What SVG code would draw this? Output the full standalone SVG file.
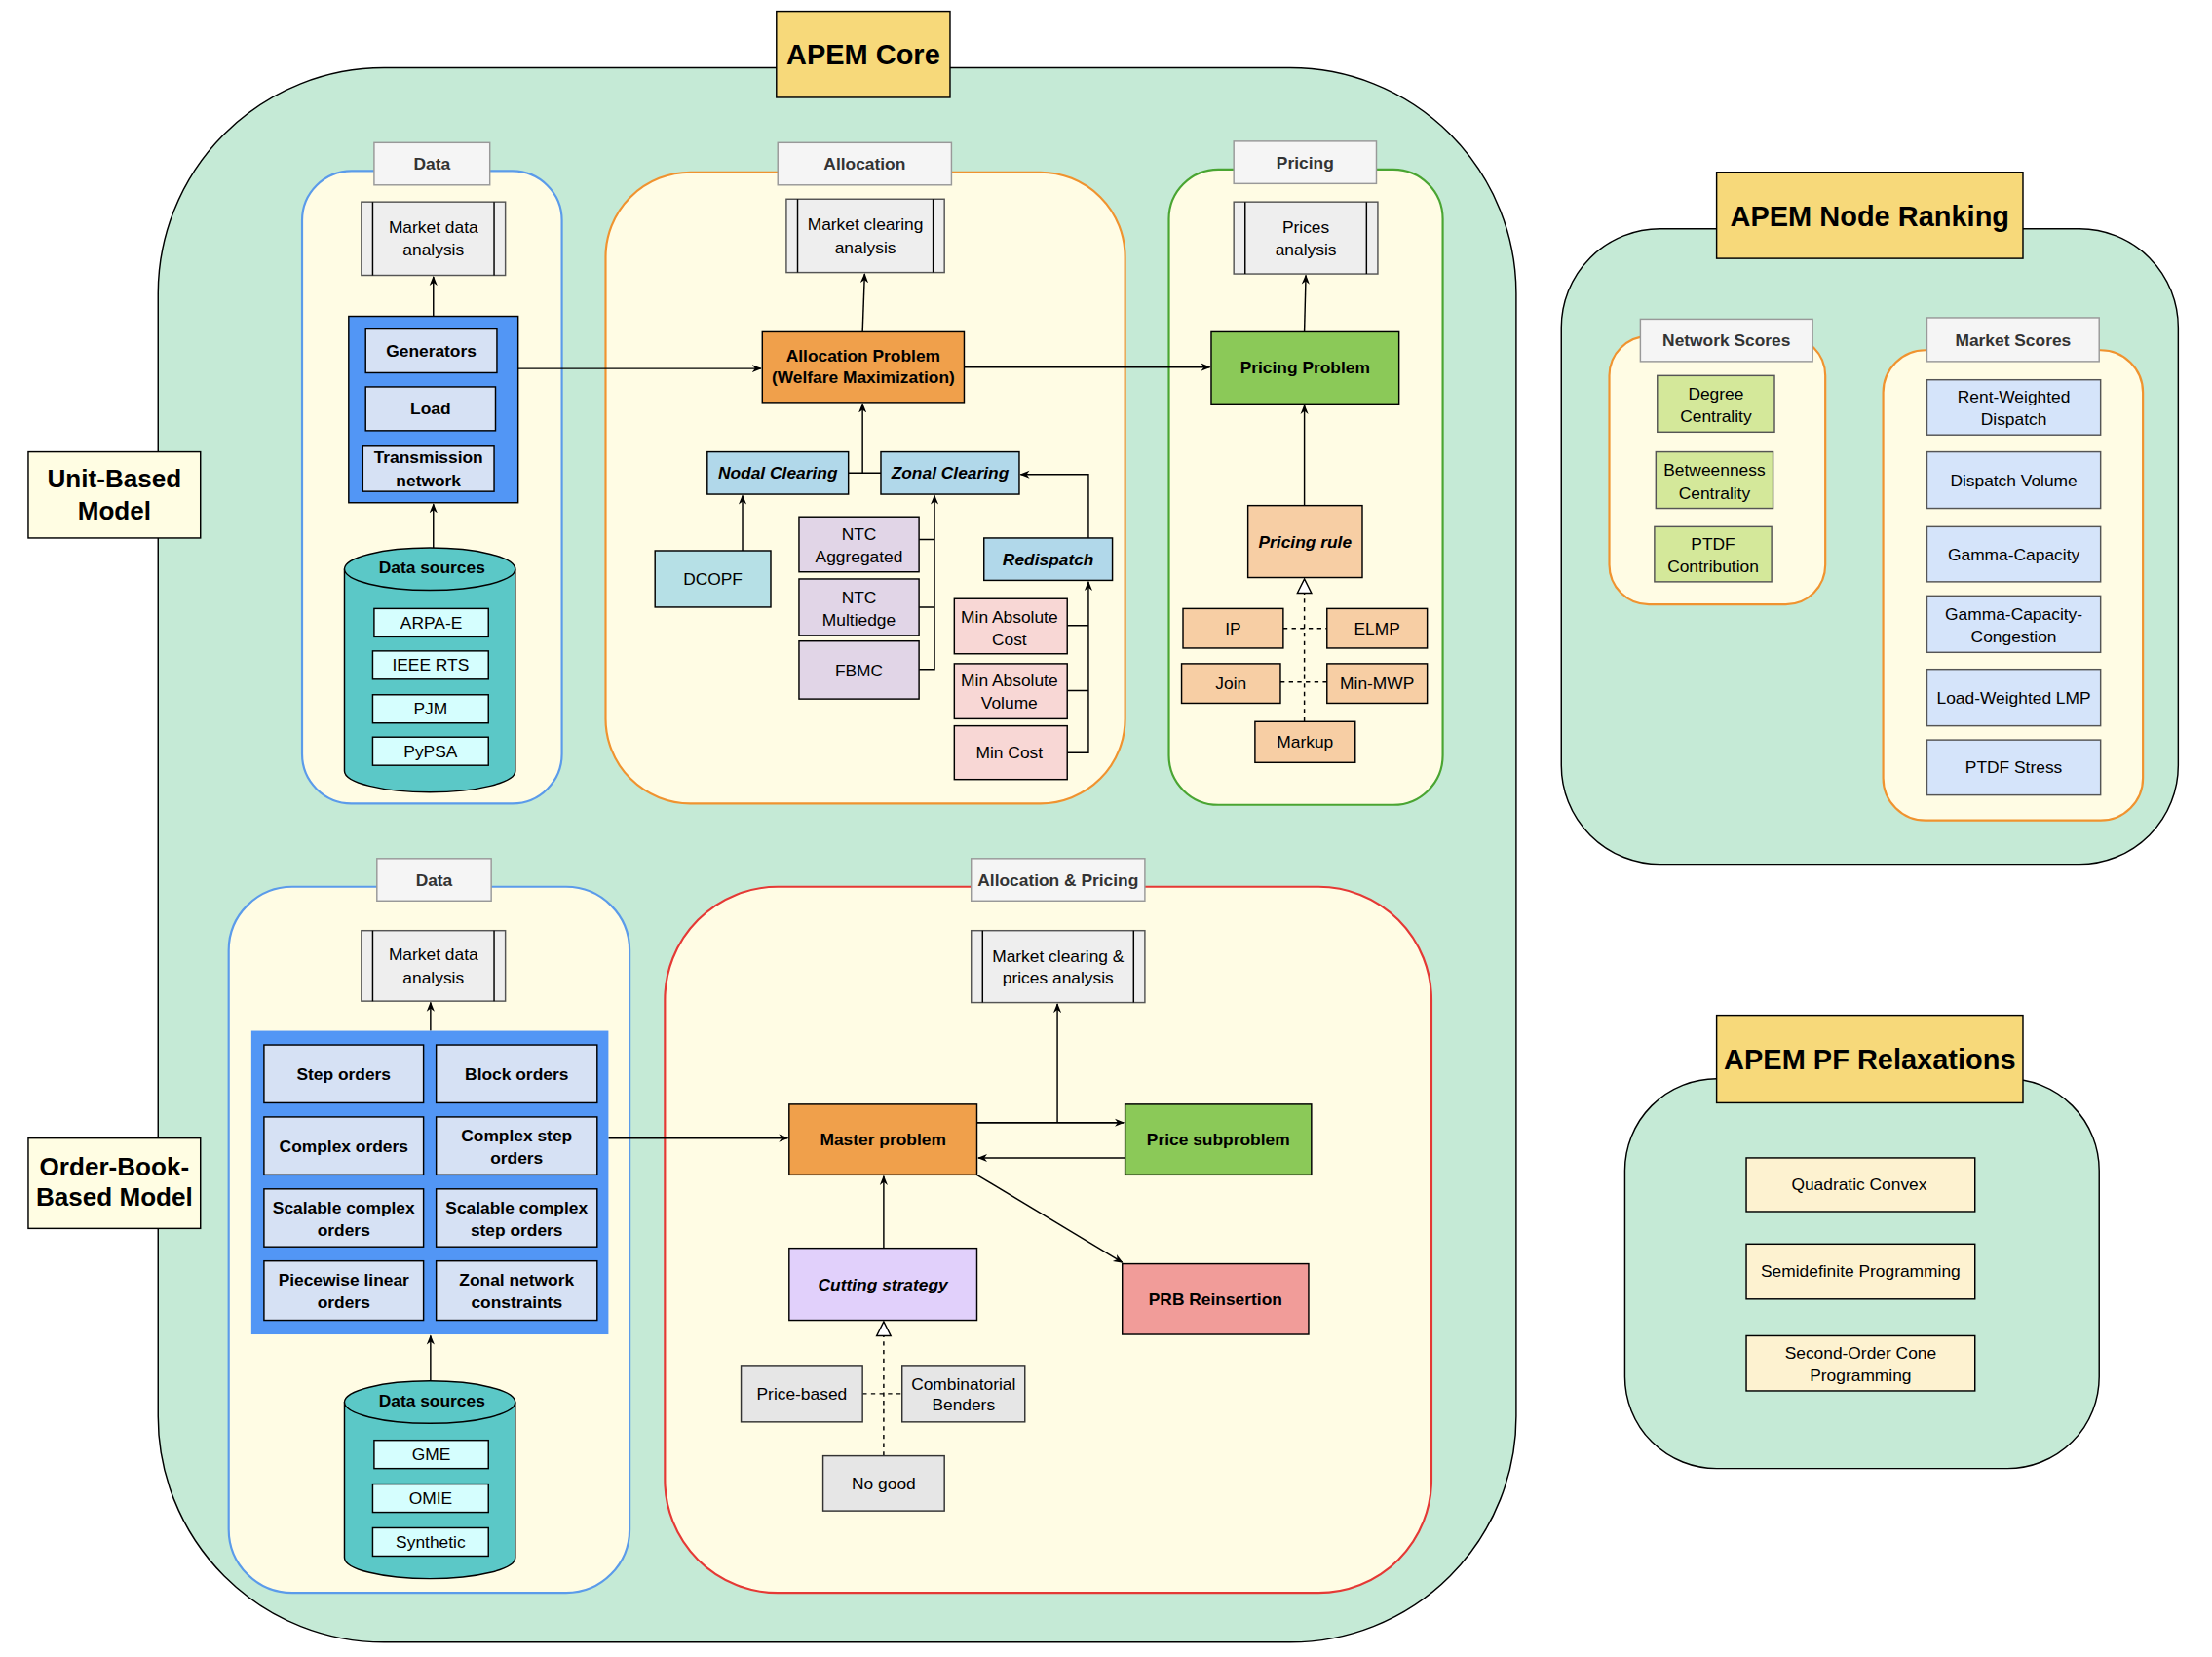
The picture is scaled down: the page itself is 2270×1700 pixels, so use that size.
<svg xmlns="http://www.w3.org/2000/svg" width="2270" height="1700" viewBox="0 0 2270 1700">
<style>
text{font-family:"Liberation Sans",Arial,sans-serif;font-size:12px;fill:#000;text-anchor:middle;dominant-baseline:central}
.b{font-weight:bold}.bi{font-weight:bold;font-style:italic}
.tab{fill:#f5f5f5;stroke:#999;stroke-width:1}
.tabt{font-weight:bold;fill:#333}
.big{fill:#c5ead6;stroke:#000;stroke-width:1}
.lbl{fill:#f7d97a;stroke:#000;stroke-width:1}
.side{fill:#fffde3;stroke:#000;stroke-width:1}
.pan{fill:#fffce4;stroke-width:1.5}
.proc{fill:#eeeeee;stroke:#555;stroke-width:1}
.n{stroke:#000;stroke-width:1}
.e{fill:none;stroke:#000;stroke-width:1}
.d{fill:none;stroke:#000;stroke-width:1;stroke-dasharray:3 3}
</style>
<defs>
<marker id="a" viewBox="0 0 10 10" refX="9" refY="5" markerWidth="7" markerHeight="7" orient="auto"><path d="M0,1 L10,5 L0,9 L3,5 Z" fill="#000"/></marker>
<marker id="t" viewBox="0 0 12 12" refX="11" refY="6" markerWidth="12" markerHeight="12" markerUnits="userSpaceOnUse" orient="auto"><path d="M1,1 L11,6 L1,11 Z" fill="#fff" stroke="#000"/></marker>
</defs>
<rect width="2270" height="1700" fill="#fff"/>
<g transform="scale(1.4487)">
<!-- containers -->
<g id="core"><rect class="big" x="112" y="48" width="962" height="1115" rx="160" ry="160"/></g>
<g id="ranking"><rect class="big" x="1106" y="162" width="437" height="450" rx="70" ry="70"/></g>
<g id="relax"><rect class="big" x="1151" y="764" width="336" height="276" rx="65" ry="65"/></g>
<g id="coreLabel"><rect class="lbl" x="550" y="8" width="123" height="61"/><text x="611.5" y="39" class="b" style="font-size:20px">APEM Core</text></g>
<g id="rankLabel"><rect class="lbl" x="1216" y="122" width="217" height="61"/><text x="1324.5" y="153" class="b" style="font-size:20px">APEM Node Ranking</text></g>
<g id="relaxLabel"><rect class="lbl" x="1216" y="719" width="217" height="62"/><text x="1324.5" y="750" class="b" style="font-size:20px">APEM PF Relaxations</text></g>
<g id="unitLabel"><rect class="side" x="20" y="320" width="122" height="61"/><text x="81" y="339" class="b" style="font-size:18px">Unit-Based</text><text x="81" y="362" class="b" style="font-size:18px">Model</text></g>
<g id="obLabel"><rect class="side" x="20" y="806" width="122" height="64"/><text x="81" y="826" class="b" style="font-size:18px">Order-Book-</text><text x="81" y="848" class="b" style="font-size:18px">Based Model</text></g>

<!-- panels -->
<g id="dataTop"><rect class="pan" stroke="#5b9bea" x="214" y="121" width="184" height="448" rx="35"/><rect class="tab" x="265" y="101" width="82" height="30"/><text class="tabt" x="306" y="116">Data</text></g>
<g id="allocPanel"><rect class="pan" stroke="#f0932f" x="429" y="122" width="368" height="447" rx="60"/><rect class="tab" x="551" y="101" width="123" height="30"/><text class="tabt" x="612.5" y="116">Allocation</text></g>
<g id="pricePanel"><rect class="pan" stroke="#4aa532" x="828" y="120" width="194" height="450" rx="35"/><rect class="tab" x="874" y="100" width="101" height="30"/><text class="tabt" x="924.5" y="115">Pricing</text></g>
<g id="netPanel"><rect class="pan" stroke="#f0932f" x="1140" y="238" width="153" height="190" rx="28"/><rect class="tab" x="1162" y="226" width="122" height="30"/><text class="tabt" x="1223" y="241">Network Scores</text></g>
<g id="mktPanel"><rect class="pan" stroke="#f0932f" x="1334" y="248" width="184" height="333" rx="30"/><rect class="tab" x="1365" y="225" width="122" height="31"/><text class="tabt" x="1426" y="241">Market Scores</text></g>
<g id="dataBot"><rect class="pan" stroke="#5b9bea" x="162" y="628" width="284" height="500" rx="45"/><rect class="tab" x="267" y="608" width="81" height="30"/><text class="tabt" x="307.5" y="623">Data</text></g>
<g id="apPanel"><rect class="pan" stroke="#e53935" x="471" y="628" width="543" height="500" rx="80"/><rect class="tab" x="688" y="608" width="123" height="30"/><text class="tabt" x="749.5" y="623">Allocation &amp; Pricing</text></g>

<!-- connectors -->
<g id="connectors">
<path class="e" d="M307,224 V196" marker-end="url(#a)"/>
<path class="e" d="M307,388 V357" marker-end="url(#a)"/>
<path class="e" d="M367,261 H539" marker-end="url(#a)"/>
<path class="e" d="M611,235 L612.5,194" marker-end="url(#a)"/>
<path class="e" d="M683,260 H857" marker-end="url(#a)"/>
<path class="e" d="M601,335 H624 M611,335 V286" marker-end="url(#a)"/>
<path class="e" d="M526,390 V351" marker-end="url(#a)"/>
<path class="e" d="M651,382 H662 M651,430 H662 M651,474 H662 V351" marker-end="url(#a)"/>
<path class="e" d="M771,381 V336 H723" marker-end="url(#a)"/>
<path class="e" d="M756,443 H771 M756,489 H771 M756,533 H771 V412" marker-end="url(#a)"/>
<path class="e" d="M924,358 V287" marker-end="url(#a)"/>
<path class="e" d="M924,235 L925,195" marker-end="url(#a)"/>
<path class="d" d="M924,511 V410" marker-end="url(#t)"/>
<path class="d" d="M909,445 H940 M907,483 H940"/>
<path class="e" d="M305,730 V710" marker-end="url(#a)"/>
<path class="e" d="M305,978 V946" marker-end="url(#a)"/>
<path class="e" d="M431,806 H558" marker-end="url(#a)"/>
<path class="e" d="M692,795 H796 M749,795 V711" marker-end="url(#a)"/>
<path class="e" d="M692,795 H796" marker-end="url(#a)"/>
<path class="e" d="M797,820 H693" marker-end="url(#a)"/>
<path class="e" d="M692,832 L795,894" marker-end="url(#a)"/>
<path class="e" d="M626,884 V833" marker-end="url(#a)"/>
<path class="d" d="M626,1031 V936" marker-end="url(#t)"/>
<path class="d" d="M611,987 H639"/>
</g>

<!-- top data -->
<g id="mda1"><rect class="proc" x="256" y="143" width="102" height="52"/><path class="e" stroke="#555" d="M264,143 V195 M350,143 V195"/><text x="307" y="161">Market data</text><text x="307" y="177">analysis</text></g>
<g id="unitData"><rect x="247" y="224" width="120" height="132" fill="#5296f5" stroke="#000"/>
<rect class="n" fill="#d6e1f4" x="259" y="233" width="93" height="31"/><text class="b" x="305.5" y="248.5">Generators</text>
<rect class="n" fill="#d6e1f4" x="259" y="274" width="92" height="31"/><text class="b" x="305" y="289.5">Load</text>
<rect class="n" fill="#d6e1f4" x="257" y="316" width="93" height="32"/><text class="b" x="303.5" y="324">Transmission</text><text class="b" x="303.5" y="340">network</text></g>
<g id="ds1"><path d="M244,403 V546 A60.5,15 0 0 0 365,546 V403" fill="#5bc8c7" stroke="#000"/><ellipse cx="304.5" cy="403" rx="60.5" ry="15" fill="#5bc8c7" stroke="#000"/><text class="b" x="306" y="402">Data sources</text>
<rect class="n" fill="#d5fefe" x="265" y="431" width="81" height="20"/><text x="305.5" y="441">ARPA-E</text>
<rect class="n" fill="#d5fefe" x="264" y="461" width="82" height="20"/><text x="305" y="471">IEEE RTS</text>
<rect class="n" fill="#d5fefe" x="264" y="492" width="82" height="20"/><text x="305" y="502">PJM</text>
<rect class="n" fill="#d5fefe" x="264" y="522" width="82" height="20"/><text x="305" y="532">PyPSA</text></g>

<!-- allocation -->
<g id="mca"><rect class="proc" x="557" y="141" width="112" height="52"/><path class="e" stroke="#555" d="M565,141 V193 M661,141 V193"/><text x="613" y="159">Market clearing</text><text x="613" y="175">analysis</text></g>
<g id="allocProb"><rect class="n" fill="#f0a04b" x="540" y="235" width="143" height="50"/><text class="b" x="611.5" y="252">Allocation Problem</text><text class="b" x="611.5" y="267">(Welfare Maximization)</text></g>
<g id="nodal"><rect class="n" fill="#b1d8ea" x="501" y="320" width="100" height="30"/><text class="bi" x="551" y="335">Nodal Clearing</text></g>
<g id="zonal"><rect class="n" fill="#b1d8ea" x="624" y="320" width="98" height="30"/><text class="bi" x="673" y="335">Zonal Clearing</text></g>
<g id="dcopf"><rect class="n" fill="#b6e0e6" x="464" y="390" width="82" height="40"/><text x="505" y="410">DCOPF</text></g>
<g id="ntca"><rect class="n" fill="#e1d5e7" x="566" y="366" width="85" height="39"/><text x="608.5" y="378">NTC</text><text x="608.5" y="394">Aggregated</text></g>
<g id="ntcm"><rect class="n" fill="#e1d5e7" x="566" y="410" width="85" height="40"/><text x="608.5" y="423">NTC</text><text x="608.5" y="439">Multiedge</text></g>
<g id="fbmc"><rect class="n" fill="#e1d5e7" x="566" y="454" width="85" height="41"/><text x="608.5" y="475">FBMC</text></g>
<g id="redisp"><rect class="n" fill="#b1d8ea" x="697" y="381" width="91" height="30"/><text class="bi" x="742.5" y="396">Redispatch</text></g>
<g id="mac"><rect class="n" fill="#f8d7d5" x="676" y="424" width="80" height="39"/><text x="715" y="437">Min Absolute</text><text x="715" y="453">Cost</text></g>
<g id="mav"><rect class="n" fill="#f8d7d5" x="676" y="470" width="80" height="39"/><text x="715" y="482">Min Absolute</text><text x="715" y="498">Volume</text></g>
<g id="mc"><rect class="n" fill="#f8d7d5" x="676" y="514" width="80" height="38"/><text x="715" y="533">Min Cost</text></g>

<!-- pricing -->
<g id="pa"><rect class="proc" x="874" y="143" width="102" height="51"/><path class="e" stroke="#555" d="M882,143 V194 M968,143 V194"/><text x="925" y="161">Prices</text><text x="925" y="177">analysis</text></g>
<g id="pp"><rect class="n" fill="#8bc958" x="858" y="235" width="133" height="51"/><text class="b" x="924.5" y="260.5">Pricing Problem</text></g>
<g id="pr"><rect class="n" fill="#f7cea4" x="884" y="358" width="81" height="51"/><text class="bi" x="924.5" y="383.5">Pricing rule</text></g>
<g id="ip"><rect class="n" fill="#f7cea4" x="838" y="431" width="71" height="28"/><text x="873.5" y="445">IP</text></g>
<g id="elmp"><rect class="n" fill="#f7cea4" x="940" y="431" width="71" height="28"/><text x="975.5" y="445">ELMP</text></g>
<g id="join"><rect class="n" fill="#f7cea4" x="837" y="470" width="70" height="28"/><text x="872" y="484">Join</text></g>
<g id="mmwp"><rect class="n" fill="#f7cea4" x="940" y="470" width="71" height="28"/><text x="975.5" y="484">Min-MWP</text></g>
<g id="markup"><rect class="n" fill="#f7cea4" x="889" y="511" width="71" height="29"/><text x="924.5" y="525.5">Markup</text></g>

<!-- node ranking -->
<g id="deg"><rect stroke="#555" fill="#d4e89a" x="1174" y="266" width="83" height="40"/><text x="1215.5" y="279">Degree</text><text x="1215.5" y="295">Centrality</text></g>
<g id="betw"><rect stroke="#555" fill="#d4e89a" x="1173" y="320" width="83" height="40"/><text x="1214.5" y="333">Betweenness</text><text x="1214.5" y="349">Centrality</text></g>
<g id="ptdfc"><rect stroke="#555" fill="#d4e89a" x="1172" y="373" width="83" height="39"/><text x="1213.5" y="385">PTDF</text><text x="1213.5" y="401">Contribution</text></g>
<g id="rwd"><rect stroke="#555" fill="#d5e4fa" x="1365" y="269" width="123" height="39"/><text x="1426.5" y="281">Rent-Weighted</text><text x="1426.5" y="297">Dispatch</text></g>
<g id="dv"><rect stroke="#555" fill="#d5e4fa" x="1365" y="320" width="123" height="40"/><text x="1426.5" y="340">Dispatch Volume</text></g>
<g id="gc"><rect stroke="#555" fill="#d5e4fa" x="1365" y="373" width="123" height="39"/><text x="1426.5" y="392.5">Gamma-Capacity</text></g>
<g id="gcc"><rect stroke="#555" fill="#d5e4fa" x="1365" y="422" width="123" height="40"/><text x="1426.5" y="435">Gamma-Capacity-</text><text x="1426.5" y="451">Congestion</text></g>
<g id="lwl"><rect stroke="#555" fill="#d5e4fa" x="1365" y="474" width="123" height="40"/><text x="1426.5" y="494">Load-Weighted LMP</text></g>
<g id="ptdfs"><rect stroke="#555" fill="#d5e4fa" x="1365" y="524" width="123" height="39"/><text x="1426.5" y="543.5">PTDF Stress</text></g>

<!-- relaxations -->
<g id="qc"><rect class="n" fill="#fdf2d0" x="1237" y="820" width="162" height="38"/><text x="1317" y="839">Quadratic Convex</text></g>
<g id="sdp"><rect class="n" fill="#fdf2d0" x="1237" y="881" width="162" height="39"/><text x="1318" y="900">Semidefinite Programming</text></g>
<g id="socp"><rect class="n" fill="#fdf2d0" x="1237" y="946" width="162" height="39"/><text x="1318" y="958">Second-Order Cone</text><text x="1318" y="974">Programming</text></g>

<!-- bottom data -->
<g id="mda2"><rect class="proc" x="256" y="659" width="102" height="50"/><path class="e" stroke="#555" d="M264,659 V709 M350,659 V709"/><text x="307" y="676">Market data</text><text x="307" y="692">analysis</text></g>
<g id="orders"><rect x="178" y="730" width="253" height="215" fill="#5296f5"/>
<rect class="n" fill="#d6e1f4" x="187" y="740" width="113" height="41"/><text class="b" x="243.5" y="760.5">Step orders</text>
<rect class="n" fill="#d6e1f4" x="309" y="740" width="114" height="41"/><text class="b" x="366" y="760.5">Block orders</text>
<rect class="n" fill="#d6e1f4" x="187" y="791" width="113" height="41"/><text class="b" x="243.5" y="811.5">Complex orders</text>
<rect class="n" fill="#d6e1f4" x="309" y="791" width="114" height="41"/><text class="b" x="366" y="804">Complex step</text><text class="b" x="366" y="820">orders</text>
<rect class="n" fill="#d6e1f4" x="187" y="842" width="113" height="41"/><text class="b" x="243.5" y="855">Scalable complex</text><text class="b" x="243.5" y="871">orders</text>
<rect class="n" fill="#d6e1f4" x="309" y="842" width="114" height="41"/><text class="b" x="366" y="855">Scalable complex</text><text class="b" x="366" y="871">step orders</text>
<rect class="n" fill="#d6e1f4" x="187" y="893" width="113" height="42"/><text class="b" x="243.5" y="906">Piecewise linear</text><text class="b" x="243.5" y="922">orders</text>
<rect class="n" fill="#d6e1f4" x="309" y="893" width="114" height="42"/><text class="b" x="366" y="906">Zonal network</text><text class="b" x="366" y="922">constraints</text></g>
<g id="ds2"><path d="M244,993 V1103 A60.5,15 0 0 0 365,1103 V993" fill="#5bc8c7" stroke="#000"/><ellipse cx="304.5" cy="993" rx="60.5" ry="15" fill="#5bc8c7" stroke="#000"/><text class="b" x="306" y="992">Data sources</text>
<rect class="n" fill="#d5fefe" x="265" y="1020" width="81" height="20"/><text x="305.5" y="1030">GME</text>
<rect class="n" fill="#d5fefe" x="264" y="1051" width="82" height="20"/><text x="305" y="1061">OMIE</text>
<rect class="n" fill="#d5fefe" x="264" y="1082" width="82" height="20"/><text x="305" y="1092">Synthetic</text></g>

<!-- alloc & pricing -->
<g id="mcpa"><rect class="proc" x="688" y="659" width="123" height="51"/><path class="e" stroke="#555" d="M696,659 V710 M803,659 V710"/><text x="749.5" y="677">Market clearing &amp;</text><text x="749.5" y="692">prices analysis</text></g>
<g id="master"><rect class="n" fill="#f0a04b" x="559" y="782" width="133" height="50"/><text class="b" x="625.5" y="807">Master problem</text></g>
<g id="psub"><rect class="n" fill="#8bc958" x="797" y="782" width="132" height="50"/><text class="b" x="863" y="807">Price subproblem</text></g>
<g id="prb"><rect class="n" fill="#f19c99" x="795" y="895" width="132" height="50"/><text class="b" x="861" y="920">PRB Reinsertion</text></g>
<g id="cut"><rect class="n" fill="#e1d0fb" x="559" y="884" width="133" height="51"/><text class="bi" x="625.5" y="909.5">Cutting strategy</text></g>
<g id="pb"><rect stroke="#333" fill="#e6e6e6" x="525" y="967" width="86" height="40"/><text x="568" y="987">Price-based</text></g>
<g id="cb"><rect stroke="#333" fill="#e6e6e6" x="639" y="967" width="87" height="40"/><text x="682.5" y="980">Combinatorial</text><text x="682.5" y="995">Benders</text></g>
<g id="ng"><rect stroke="#333" fill="#e6e6e6" x="583" y="1031" width="86" height="39"/><text x="626" y="1050.5">No good</text></g>
</g>
</svg>
